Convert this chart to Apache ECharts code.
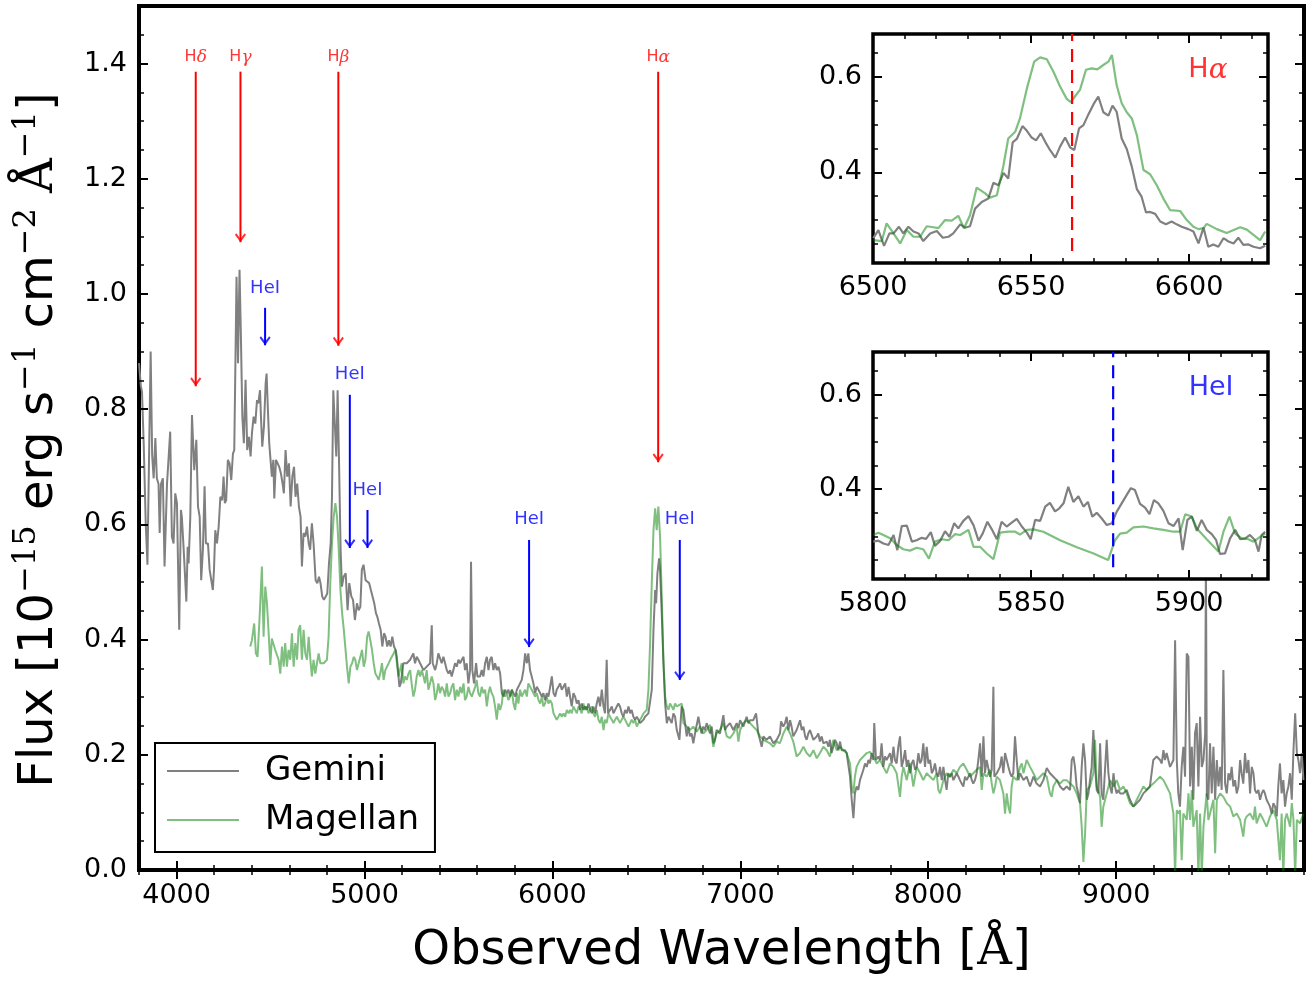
<!DOCTYPE html>
<html>
<head>
<meta charset="utf-8">
<script src="https://cdn.jsdelivr.net/npm/echarts@6/dist/echarts.min.js"></script>
<style>
html, body { margin: 0; padding: 0; background: #fff; }
#chart { width: 1315px; height: 981px; }
</style>
</head>
<body>
<div id="chart"></div>
<script>
// spectra, [wavelength (A), flux (1e-15 erg/s/cm2/A)]
const gemini = [
[3800,0.88],[3810,0.84],[3816,0.83],[3825,0.74],[3836,0.60],[3845,0.53],[3855,0.75],[3862,0.90],[3870,0.72],[3878,0.68],
[3887,0.75],[3895,0.68],[3904,0.67],[3910,0.585],[3917,0.67],[3927,0.68],[3936,0.527],[3949,0.67],[3959,0.67],[3966,0.761],
[3975,0.579],[3984,0.567],[3993,0.654],[4002,0.637],[4007,0.544],[4014,0.417],[4023,0.625],[4028,0.613],[4037,0.561],[4052,0.466],
[4059,0.561],[4064,0.532],[4073,0.613],[4082,0.790],[4094,0.694],[4105,0.747],[4114,0.631],[4123,0.613],[4131,0.503],[4140,0.556],
[4149,0.666],[4156,0.567],[4167,0.567],[4176,0.521],[4193,0.486],[4199,0.521],[4206,0.590],[4215,0.567],[4224,0.596],[4233,0.648],
[4243,0.642],[4250,0.683],[4257,0.637],[4264,0.642],[4273,0.712],[4282,0.706],[4291,0.677],[4300,0.723],[4307,0.729],[4314,0.903],
[4319,1.030],[4327,0.880],[4335,1.042],[4342,0.932],[4350,0.787],[4358,0.741],[4367,0.851],[4376,0.729],[4385,0.752],[4394,0.718],
[4401,0.758],[4410,0.787],[4419,0.775],[4428,0.816],[4435,0.810],[4444,0.833],[4449,0.787],[4456,0.735],[4465,0.770],[4474,0.845],
[4479,0.862],[4486,0.799],[4493,0.741],[4500,0.712],[4507,0.683],[4515,0.712],[4520,0.645],[4529,0.712],[4538,0.706],[4546,0.700],
[4555,0.689],[4564,0.671],[4571,0.654],[4580,0.729],[4589,0.683],[4598,0.706],[4607,0.631],[4616,0.683],[4625,0.700],[4633,0.648],
[4642,0.671],[4651,0.631],[4660,0.613],[4667,0.527],[4676,0.585],[4685,0.579],[4694,0.596],[4703,0.567],[4711,0.556],[4720,0.602],
[4729,0.567],[4740,0.503],[4749,0.498],[4758,0.509],[4766,0.498],[4775,0.475],[4784,0.469],[4793,0.469],[4802,0.480],[4811,0.532],
[4820,0.567],[4827,0.648],[4834,0.833],[4843,0.833],[4850,0.718],[4857,0.833],[4864,0.718],[4873,0.556],[4880,0.492],[4889,0.509],
[4900,0.515],[4910,0.451],[4919,0.498],[4930,0.475],[4939,0.469],[4949,0.434],[4960,0.463],[4969,0.451],[4978,0.457],[4986,0.521],
[4995,0.530],[5006,0.503],[5015,0.503],[5025,0.498],[5034,0.486],[5043,0.486],[5052,0.463],[5061,0.446],[5068,0.440],[5077,0.428],
[5086,0.417],[5095,0.388],[5104,0.411],[5112,0.405],[5121,0.388],[5130,0.399],[5139,0.388],[5148,0.405],[5157,0.388],[5166,0.382],
[5172,0.370],[5186,0.318],[5193,0.324],[5207,0.359],[5225,0.359],[5243,0.365],[5260,0.376],[5269,0.359],[5278,0.370],[5287,0.365],
[5296,0.359],[5305,0.359],[5314,0.347],[5331,0.353],[5349,0.359],[5358,0.425],[5363,0.359],[5376,0.347],[5385,0.359],[5393,0.376],
[5402,0.376],[5411,0.359],[5420,0.370],[5429,0.359],[5438,0.347],[5447,0.341],[5456,0.347],[5464,0.336],[5473,0.347],[5482,0.359],
[5491,0.353],[5500,0.365],[5509,0.359],[5518,0.365],[5527,0.370],[5535,0.347],[5544,0.359],[5553,0.324],[5562,0.347],[5567,0.535],
[5574,0.347],[5583,0.324],[5594,0.359],[5601,0.336],[5615,0.336],[5624,0.347],[5633,0.336],[5642,0.359],[5651,0.370],[5660,0.347],
[5668,0.365],[5677,0.370],[5686,0.347],[5695,0.359],[5704,0.347],[5713,0.353],[5722,0.341],[5731,0.307],[5739,0.301],[5748,0.313],
[5757,0.307],[5766,0.313],[5775,0.301],[5784,0.313],[5793,0.307],[5802,0.301],[5811,0.313],[5819,0.318],[5828,0.324],[5837,0.330],
[5846,0.347],[5855,0.376],[5864,0.359],[5872,0.376],[5881,0.347],[5890,0.336],[5899,0.324],[5908,0.307],[5917,0.318],[5926,0.313],
[5935,0.307],[5944,0.301],[5952,0.307],[5961,0.295],[5970,0.307],[5979,0.301],[5988,0.318],[5997,0.336],[6006,0.307],[6015,0.301],
[6023,0.313],[6032,0.318],[6041,0.324],[6050,0.313],[6059,0.318],[6068,0.324],[6077,0.301],[6086,0.318],[6094,0.301],[6103,0.284],
[6112,0.307],[6121,0.301],[6130,0.289],[6139,0.295],[6148,0.278],[6156,0.289],[6165,0.278],[6174,0.284],[6183,0.278],[6192,0.289],
[6201,0.278],[6210,0.272],[6218,0.284],[6227,0.272],[6236,0.289],[6245,0.301],[6254,0.284],[6263,0.313],[6272,0.284],[6280,0.272],
[6289,0.365],[6296,0.272],[6307,0.278],[6316,0.284],[6325,0.272],[6334,0.278],[6343,0.284],[6351,0.289],[6360,0.284],[6369,0.272],
[6378,0.266],[6387,0.278],[6396,0.272],[6405,0.284],[6414,0.272],[6422,0.278],[6431,0.266],[6440,0.261],[6449,0.266],[6458,0.261],
[6467,0.255],[6476,0.255],[6485,0.261],[6493,0.266],[6502,0.266],[6511,0.272],[6520,0.272],[6529,0.313],[6538,0.417],[6547,0.486],
[6552,0.463],[6559,0.515],[6568,0.541],[6573,0.521],[6582,0.446],[6591,0.359],[6600,0.289],[6609,0.255],[6618,0.266],[6626,0.261],
[6635,0.255],[6644,0.272],[6653,0.266],[6662,0.243],[6676,0.226],[6688,0.284],[6697,0.278],[6706,0.255],[6715,0.232],[6724,0.249],
[6732,0.232],[6741,0.237],[6750,0.220],[6759,0.237],[6777,0.266],[6786,0.249],[6794,0.237],[6803,0.249],[6812,0.243],[6821,0.255],
[6839,0.237],[6848,0.249],[6857,0.220],[6865,0.226],[6874,0.243],[6892,0.237],[6910,0.269],[6919,0.243],[6928,0.249],[6945,0.255],
[6963,0.243],[6981,0.255],[6990,0.246],[6999,0.260],[7016,0.249],[7034,0.266],[7043,0.255],[7052,0.260],[7069,0.260],[7084,0.272],
[7096,0.237],[7114,0.214],[7123,0.232],[7140,0.226],[7158,0.232],[7176,0.220],[7194,0.226],[7211,0.237],[7217,0.258],[7229,0.249],
[7238,0.255],[7247,0.266],[7256,0.243],[7265,0.260],[7273,0.249],[7282,0.232],[7300,0.243],[7318,0.260],[7327,0.243],[7336,0.249],
[7345,0.232],[7353,0.226],[7362,0.237],[7371,0.243],[7389,0.226],[7407,0.232],[7415,0.237],[7424,0.223],[7433,0.232],[7442,0.220],
[7460,0.223],[7469,0.214],[7477,0.226],[7486,0.203],[7495,0.214],[7504,0.226],[7513,0.220],[7522,0.208],[7531,0.223],[7539,0.208],
[7548,0.211],[7557,0.208],[7566,0.203],[7575,0.203],[7584,0.162],[7593,0.122],[7602,0.090],[7610,0.133],[7619,0.145],[7628,0.139],
[7637,0.156],[7655,0.174],[7664,0.185],[7673,0.179],[7682,0.191],[7690,0.185],[7699,0.203],[7708,0.191],[7713,0.255],[7722,0.191],
[7735,0.197],[7744,0.191],[7752,0.220],[7761,0.179],[7770,0.197],[7779,0.191],[7797,0.203],[7806,0.185],[7815,0.214],[7823,0.191],
[7832,0.185],[7841,0.214],[7850,0.232],[7859,0.179],[7868,0.191],[7877,0.208],[7886,0.179],[7894,0.191],[7903,0.168],[7912,0.185],
[7921,0.191],[7930,0.174],[7939,0.179],[7948,0.203],[7957,0.185],[7965,0.191],[7974,0.220],[7983,0.179],[7992,0.214],[8001,0.185],
[8010,0.191],[8019,0.168],[8028,0.174],[8036,0.185],[8045,0.168],[8054,0.162],[8063,0.179],[8072,0.156],[8081,0.179],[8090,0.156],
[8098,0.139],[8107,0.168],[8116,0.162],[8125,0.168],[8134,0.156],[8152,0.168],[8161,0.162],[8169,0.156],[8178,0.150],[8187,0.145],
[8196,0.162],[8205,0.156],[8223,0.168],[8232,0.156],[8240,0.150],[8249,0.156],[8258,0.168],[8267,0.191],[8276,0.220],[8285,0.162],
[8294,0.232],[8302,0.168],[8311,0.191],[8329,0.162],[8338,0.174],[8347,0.318],[8352,0.162],[8365,0.168],[8382,0.179],[8391,0.197],
[8400,0.168],[8409,0.203],[8418,0.203],[8427,0.179],[8436,0.168],[8444,0.162],[8453,0.168],[8462,0.232],[8471,0.191],[8480,0.156],
[8489,0.168],[8507,0.156],[8524,0.162],[8542,0.145],[8560,0.162],[8577,0.150],[8595,0.145],[8613,0.156],[8631,0.177],[8640,0.179],
[8648,0.168],[8666,0.162],[8684,0.156],[8702,0.145],[8719,0.139],[8737,0.145],[8755,0.139],[8764,0.191],[8773,0.197],[8781,0.179],
[8790,0.145],[8799,0.133],[8808,0.116],[8817,0.179],[8826,0.220],[8835,0.191],[8844,0.122],[8853,0.133],[8861,0.156],[8870,0.179],
[8879,0.243],[8888,0.179],[8897,0.139],[8906,0.133],[8915,0.220],[8923,0.133],[8932,0.122],[8950,0.226],[8959,0.168],[8968,0.145],
[8977,0.133],[8986,0.168],[8994,0.145],[9003,0.133],[9012,0.139],[9021,0.133],[9039,0.133],[9056,0.139],[9074,0.122],[9092,0.110],
[9110,0.116],[9127,0.122],[9145,0.133],[9163,0.139],[9180,0.145],[9198,0.191],[9216,0.197],[9234,0.191],[9243,0.185],[9252,0.208],
[9260,0.191],[9269,0.203],[9287,0.179],[9305,0.191],[9314,0.399],[9323,0.191],[9331,0.133],[9340,0.110],[9349,0.179],[9358,0.214],
[9367,0.162],[9376,0.376],[9385,0.370],[9394,0.145],[9403,0.214],[9411,0.122],[9420,0.237],[9429,0.255],[9438,0.145],[9447,0.266],
[9456,0.179],[9465,0.191],[9474,0.237],[9478,0.550],[9483,0.130],[9491,0.122],[9500,0.220],[9509,0.133],[9518,0.214],[9527,0.122],
[9536,0.191],[9545,0.145],[9554,0.179],[9562,0.139],[9571,0.347],[9580,0.150],[9589,0.133],[9598,0.168],[9607,0.156],[9615,0.179],
[9624,0.145],[9633,0.156],[9642,0.133],[9651,0.145],[9660,0.191],[9668,0.168],[9677,0.150],[9686,0.203],[9695,0.168],[9704,0.191],
[9713,0.133],[9722,0.179],[9731,0.168],[9739,0.139],[9748,0.133],[9757,0.139],[9766,0.122],[9775,0.133],[9784,0.139],[9792,0.133],
[9801,0.122],[9810,0.116],[9819,0.110],[9828,0.098],[9837,0.116],[9846,0.110],[9855,0.093],[9863,0.145],[9872,0.185],[9881,0.133],
[9890,0.156],[9899,0.110],[9908,0.133],[9917,0.145],[9926,0.168],[9935,0.122],[9944,0.208],[9953,0.272],[9962,0.203],[9970,0.191],
[9979,0.168],[9988,0.203],[9997,0.156]
];

const magellan = [
[4392,0.388],[4401,0.399],[4413,0.428],[4422,0.376],[4431,0.370],[4442,0.440],[4454,0.527],[4463,0.405],[4472,0.492],[4481,0.463],
[4490,0.411],[4499,0.356],[4507,0.402],[4516,0.405],[4525,0.382],[4534,0.382],[4543,0.365],[4552,0.341],[4561,0.388],[4570,0.353],
[4578,0.394],[4587,0.353],[4596,0.382],[4605,0.365],[4614,0.411],[4623,0.353],[4632,0.394],[4641,0.365],[4649,0.417],[4658,0.425],
[4667,0.365],[4676,0.417],[4685,0.376],[4694,0.365],[4703,0.405],[4712,0.365],[4720,0.336],[4729,0.365],[4738,0.341],[4747,0.359],
[4756,0.376],[4765,0.359],[4774,0.359],[4783,0.359],[4791,0.356],[4800,0.365],[4809,0.405],[4818,0.498],[4827,0.567],[4836,0.613],
[4845,0.637],[4854,0.613],[4863,0.556],[4872,0.486],[4881,0.446],[4890,0.417],[4898,0.417],[4907,0.353],[4916,0.324],[4925,0.353],
[4934,0.359],[4943,0.370],[4951,0.365],[4960,0.347],[4969,0.359],[4978,0.370],[4987,0.382],[4996,0.353],[5005,0.365],[5014,0.405],
[5022,0.414],[5031,0.399],[5040,0.382],[5049,0.359],[5058,0.341],[5067,0.336],[5075,0.330],[5084,0.341],[5093,0.359],[5102,0.330],
[5111,0.347],[5120,0.353],[5129,0.359],[5137,0.365],[5155,0.376],[5164,0.382],[5181,0.336],[5189,0.347],[5198,0.359],[5207,0.324],
[5216,0.336],[5225,0.330],[5234,0.341],[5243,0.347],[5251,0.324],[5260,0.301],[5269,0.313],[5278,0.336],[5287,0.347],[5296,0.336],
[5305,0.347],[5314,0.336],[5322,0.324],[5331,0.347],[5340,0.313],[5349,0.324],[5358,0.336],[5367,0.324],[5376,0.295],[5385,0.307],
[5393,0.324],[5402,0.307],[5411,0.318],[5420,0.313],[5429,0.301],[5438,0.324],[5447,0.301],[5456,0.307],[5464,0.318],[5473,0.324],
[5482,0.295],[5491,0.313],[5500,0.301],[5509,0.318],[5518,0.307],[5527,0.324],[5535,0.295],[5544,0.301],[5553,0.318],[5562,0.307],
[5571,0.301],[5580,0.301],[5589,0.318],[5597,0.330],[5606,0.307],[5615,0.301],[5624,0.318],[5633,0.307],[5642,0.313],[5651,0.284],
[5660,0.307],[5668,0.318],[5677,0.307],[5686,0.301],[5695,0.284],[5704,0.261],[5713,0.289],[5722,0.278],[5731,0.289],[5739,0.313],
[5748,0.301],[5757,0.307],[5766,0.295],[5775,0.301],[5784,0.313],[5793,0.289],[5802,0.278],[5811,0.307],[5819,0.289],[5828,0.313],
[5837,0.301],[5846,0.307],[5855,0.313],[5864,0.301],[5872,0.324],[5881,0.324],[5890,0.313],[5899,0.307],[5908,0.301],[5917,0.307],
[5926,0.295],[5935,0.289],[5944,0.301],[5952,0.284],[5961,0.289],[5970,0.301],[5979,0.289],[5988,0.295],[5997,0.289],[6006,0.272],
[6015,0.266],[6023,0.261],[6032,0.266],[6041,0.272],[6050,0.266],[6059,0.272],[6068,0.266],[6077,0.278],[6086,0.272],[6094,0.278],
[6103,0.272],[6112,0.284],[6121,0.278],[6130,0.272],[6139,0.284],[6148,0.278],[6156,0.272],[6165,0.289],[6174,0.278],[6183,0.284],
[6192,0.272],[6201,0.278],[6210,0.284],[6218,0.272],[6227,0.266],[6236,0.278],[6245,0.261],[6254,0.255],[6263,0.266],[6272,0.243],
[6280,0.261],[6289,0.255],[6298,0.272],[6307,0.266],[6316,0.261],[6325,0.255],[6334,0.261],[6343,0.266],[6351,0.261],[6360,0.255],
[6369,0.261],[6378,0.266],[6387,0.261],[6396,0.255],[6405,0.249],[6414,0.255],[6422,0.261],[6431,0.255],[6440,0.261],[6449,0.249],
[6458,0.255],[6467,0.261],[6476,0.266],[6485,0.272],[6493,0.272],[6502,0.278],[6511,0.313],[6520,0.394],[6529,0.498],[6538,0.590],
[6547,0.628],[6555,0.590],[6564,0.631],[6573,0.579],[6582,0.475],[6591,0.365],[6600,0.301],[6609,0.284],[6618,0.278],[6626,0.289],
[6635,0.284],[6644,0.278],[6653,0.289],[6662,0.284],[6671,0.284],[6688,0.289],[6697,0.255],[6715,0.249],[6732,0.243],[6750,0.249],
[6768,0.240],[6786,0.249],[6803,0.237],[6821,0.243],[6839,0.252],[6857,0.214],[6865,0.226],[6874,0.237],[6892,0.243],[6910,0.255],
[6928,0.232],[6945,0.229],[6963,0.237],[6981,0.249],[6990,0.223],[6999,0.243],[7016,0.255],[7034,0.260],[7052,0.255],[7069,0.249],
[7087,0.243],[7105,0.232],[7123,0.226],[7140,0.223],[7158,0.220],[7176,0.214],[7194,0.223],[7211,0.220],[7229,0.237],[7247,0.249],
[7265,0.237],[7282,0.223],[7300,0.197],[7318,0.203],[7336,0.214],[7353,0.203],[7371,0.197],[7389,0.208],[7407,0.194],[7424,0.203],
[7442,0.214],[7460,0.208],[7477,0.197],[7495,0.226],[7513,0.208],[7531,0.214],[7548,0.208],[7566,0.203],[7584,0.185],[7593,0.145],
[7602,0.133],[7610,0.162],[7619,0.179],[7637,0.191],[7655,0.197],[7673,0.203],[7690,0.205],[7708,0.197],[7726,0.185],[7744,0.191],
[7761,0.179],[7779,0.168],[7797,0.185],[7815,0.179],[7832,0.168],[7850,0.127],[7859,0.162],[7868,0.179],[7886,0.156],[7903,0.185],
[7921,0.145],[7939,0.179],[7957,0.168],[7974,0.156],[7992,0.168],[8010,0.162],[8028,0.156],[8045,0.168],[8054,0.139],[8063,0.133],
[8081,0.156],[8098,0.168],[8116,0.162],[8134,0.174],[8152,0.168],[8169,0.179],[8187,0.185],[8205,0.174],[8223,0.162],[8240,0.168],
[8258,0.174],[8276,0.179],[8285,0.139],[8294,0.168],[8311,0.162],[8329,0.174],[8338,0.150],[8347,0.133],[8356,0.145],[8365,0.162],
[8382,0.156],[8400,0.133],[8409,0.098],[8418,0.133],[8427,0.110],[8436,0.098],[8444,0.145],[8453,0.162],[8471,0.156],[8489,0.179],
[8498,0.185],[8507,0.168],[8524,0.191],[8542,0.179],[8560,0.168],[8577,0.156],[8595,0.162],[8613,0.168],[8631,0.162],[8648,0.133],
[8657,0.127],[8666,0.145],[8684,0.156],[8702,0.150],[8719,0.156],[8737,0.156],[8755,0.150],[8773,0.145],[8790,0.133],[8808,0.116],
[8817,0.075],[8826,0.014],[8835,0.064],[8844,0.139],[8861,0.145],[8879,0.168],[8888,0.226],[8897,0.145],[8915,0.127],[8923,0.075],
[8932,0.110],[8950,0.133],[8968,0.156],[8986,0.145],[9003,0.156],[9021,0.139],[9039,0.145],[9056,0.133],[9074,0.116],[9092,0.110],
[9110,0.122],[9127,0.133],[9145,0.145],[9163,0.139],[9180,0.145],[9198,0.150],[9216,0.156],[9234,0.162],[9252,0.156],[9269,0.145],
[9287,0.133],[9305,0.098],[9314,-0.01],[9323,0.104],[9331,0.098],[9340,0.104],[9349,0.017],[9358,0.098],[9376,0.087],[9385,0.133],
[9394,0.087],[9403,0.139],[9411,0.075],[9429,0.104],[9438,-0.01],[9447,0.098],[9456,-0.01],[9465,0.075],[9482,0.133],[9491,0.087],
[9500,0.098],[9518,0.122],[9527,0.029],[9536,0.122],[9554,0.133],[9571,0.127],[9589,0.116],[9607,0.110],[9624,0.093],[9642,0.098],
[9660,0.087],[9677,0.058],[9686,0.087],[9695,0.093],[9713,0.098],[9731,0.087],[9739,0.110],[9748,0.081],[9766,0.098],[9784,0.087],
[9801,0.075],[9819,0.093],[9837,0.104],[9855,0.087],[9872,0.017],[9881,0.098],[9890,-0.01],[9899,0.087],[9908,0.098],[9926,0.075],
[9935,0.116],[9944,0.087],[9953,-0.01],[9962,0.087],[9979,0.081],[9997,0.098]
];

// H-alpha zoom
const haGemini = [
[6500.1,0.262],[6501.7,0.279],[6503.5,0.246],[6505.2,0.272],[6506.5,0.272],[6508.2,0.286],[6509.6,0.272],[6511.2,0.286],
[6512.8,0.276],[6514.4,0.272],[6515.9,0.256],[6518.1,0.272],[6520.2,0.277],[6522.1,0.263],[6523.9,0.265],[6525.4,0.272],
[6527.6,0.291],[6529.1,0.284],[6530.7,0.287],[6532.3,0.324],[6534.4,0.338],[6536.5,0.345],[6538.1,0.378],[6539.7,0.373],
[6541.3,0.399],[6542.8,0.387],[6544.2,0.463],[6545.5,0.470],[6547.3,0.497],[6548.7,0.487],[6550.2,0.473],[6551.6,0.467],
[6553.1,0.482],[6554.5,0.464],[6556.0,0.447],[6557.7,0.431],[6559.2,0.454],[6560.8,0.473],[6562.4,0.452],[6563.7,0.447],
[6565.2,0.492],[6566.6,0.499],[6568.2,0.522],[6569.8,0.543],[6571.3,0.559],[6572.9,0.526],[6574.5,0.519],[6575.8,0.540],
[6577.1,0.527],[6578.7,0.471],[6580.3,0.449],[6581.9,0.412],[6583.5,0.365],[6585.0,0.349],[6586.4,0.316],[6587.7,0.317],
[6589.3,0.313],[6590.9,0.297],[6592.7,0.291],[6594.5,0.297],[6596.1,0.291],[6597.7,0.286],[6599.8,0.281],[6601.4,0.276],
[6603.0,0.251],[6604.6,0.284],[6606.1,0.244],[6607.7,0.249],[6609.3,0.244],[6610.9,0.262],[6612.5,0.255],[6614.1,0.251],
[6615.6,0.263],[6617.2,0.248],[6618.8,0.249],[6620.4,0.244],[6622.5,0.241],[6624.1,0.246]
];
const haMagellan = [
[6500.1,0.258],[6502.8,0.256],[6504.3,0.293],[6506.5,0.272],[6508.6,0.251],[6510.7,0.279],[6512.8,0.265],[6514.9,0.265],
[6517.0,0.287],[6519.1,0.285],[6520.7,0.283],[6522.8,0.300],[6524.9,0.299],[6527.0,0.309],[6528.8,0.283],[6530.7,0.310],
[6532.8,0.368],[6535.5,0.356],[6537.0,0.347],[6539.2,0.352],[6541.3,0.415],[6542.8,0.471],[6545.0,0.485],[6546.5,0.513],
[6548.7,0.576],[6551.0,0.632],[6552.9,0.641],[6555.0,0.637],[6557.1,0.611],[6559.2,0.580],[6561.3,0.554],[6562.6,0.547],
[6563.9,0.559],[6565.5,0.573],[6567.4,0.615],[6569.2,0.618],[6571.0,0.616],[6572.9,0.625],[6574.5,0.632],[6575.6,0.646],
[6577.1,0.583],[6578.7,0.545],[6580.3,0.526],[6581.9,0.513],[6583.5,0.478],[6585.6,0.405],[6587.7,0.396],[6589.8,0.373],
[6591.9,0.345],[6594.0,0.321],[6597.2,0.319],[6599.3,0.300],[6601.4,0.286],[6603.0,0.281],[6604.6,0.283],[6605.6,0.292],
[6608.8,0.281],[6611.9,0.273],[6616.2,0.285],[6618.3,0.280],[6620.4,0.269],[6622.5,0.258],[6624.1,0.276]
];

// HeI 5876 zoom
const heGemini = [
[5800.1,0.289],[5801.7,0.291],[5803.3,0.285],[5804.9,0.282],[5806.5,0.303],[5807.7,0.271],[5809.1,0.322],[5810.7,0.323],
[5812.3,0.289],[5813.8,0.292],[5815.4,0.297],[5816.8,0.295],[5818.3,0.309],[5819.6,0.280],[5821.2,0.290],[5822.8,0.311],
[5824.2,0.299],[5825.7,0.328],[5827.0,0.317],[5828.6,0.333],[5830.2,0.343],[5831.8,0.324],[5833.4,0.291],[5834.7,0.306],
[5836.2,0.331],[5837.6,0.315],[5839.2,0.294],[5840.7,0.331],[5842.3,0.321],[5843.9,0.329],[5845.5,0.337],[5847.1,0.321],
[5848.7,0.308],[5849.9,0.294],[5851.3,0.335],[5852.9,0.333],[5854.5,0.363],[5856.0,0.371],[5857.6,0.353],[5858.9,0.359],
[5860.3,0.370],[5861.8,0.405],[5863.4,0.373],[5865.0,0.385],[5866.6,0.363],[5868.0,0.373],[5869.4,0.342],[5870.8,0.350],
[5872.4,0.338],[5874.0,0.324],[5875.6,0.328],[5877.1,0.352],[5878.7,0.370],[5880.3,0.388],[5881.6,0.402],[5882.9,0.398],
[5884.5,0.369],[5886.1,0.361],[5887.5,0.347],[5888.9,0.377],[5890.3,0.370],[5891.9,0.354],[5893.5,0.328],[5895.1,0.322],
[5896.7,0.338],[5898.0,0.271],[5899.5,0.335],[5900.9,0.342],[5902.5,0.312],[5904.0,0.335],[5905.6,0.314],[5907.2,0.305],
[5908.6,0.292],[5909.8,0.263],[5911.4,0.264],[5913.0,0.296],[5914.6,0.314],[5916.2,0.294],[5917.8,0.296],[5919.3,0.303],
[5920.9,0.292],[5922.0,0.268],[5923.0,0.303],[5924.1,0.310]
];
const heMagellan = [
[5800.1,0.303],[5801.7,0.308],[5803.3,0.303],[5805.4,0.296],[5807.5,0.282],[5809.6,0.273],[5811.7,0.270],[5813.8,0.276],
[5815.9,0.273],[5817.7,0.253],[5819.6,0.289],[5821.7,0.294],[5823.9,0.292],[5826.0,0.305],[5827.6,0.303],[5830.2,0.314],
[5831.8,0.278],[5833.9,0.278],[5836.0,0.264],[5838.1,0.252],[5840.2,0.308],[5842.8,0.310],[5845.0,0.310],[5846.5,0.304],
[5848.7,0.314],[5850.8,0.315],[5853.9,0.310],[5859.2,0.292],[5864.5,0.277],[5869.8,0.264],[5874.4,0.250],[5876.6,0.292],
[5878.2,0.306],[5880.3,0.308],[5882.4,0.319],[5885.6,0.321],[5888.7,0.317],[5891.9,0.314],[5895.1,0.310],[5897.2,0.310],
[5898.8,0.347],[5900.9,0.342],[5902.5,0.317],[5905.6,0.294],[5909.3,0.268],[5910.9,0.310],[5912.8,0.342],[5914.6,0.306],
[5916.7,0.296],[5918.8,0.294],[5920.4,0.289],[5922.5,0.299],[5924.1,0.306]
];

// line identifications
const lineLam  = [4102, 4340, 4861, 6563, 4471, 4922, 5016, 5876, 6678];
const lineTag  = ['δ', 'γ', 'β', 'α', 'HeI', 'HeI', 'HeI', 'HeI', 'HeI'];
const arrowTop = [1.386, 1.386, 1.386, 1.386, 0.976, 0.825, 0.625, 0.573, 0.573];
const arrowTip = [0.840, 1.090, 0.910, 0.708, 0.911, 0.559, 0.559, 0.387, 0.330];
const labelY   = [1.411, 1.411, 1.411, 1.411, 1.010, 0.860, 0.660, 0.609, 0.609];

// tick labels
const mainXTicks = [4000, 5000, 6000, 7000, 8000, 9000];
const mainYTicks = [0.0, 0.2, 0.4, 0.6, 0.8, 1.0, 1.2, 1.4];
const haXTicks = [6500, 6550, 6600];
const heXTicks = [5800, 5850, 5900];
const insetYTicks = [0.4, 0.6];

const FONT = 'DejaVu Sans';
const GRAY = '#808080';
const GREEN = 'rgba(0,128,0,0.5)';

function steps(a, b, d, skip) {
  const out = [];
  for (let v = a; v <= b + 1e-9; v += d) {
    const r = Math.round(v * 1000) / 1000;
    if (!skip.some(s => Math.abs(s - r) < 1e-6)) out.push(r);
  }
  return out;
}

// 4 tick axes per grid: bottom/left major (with labels), minor, top/right major, minor
function axes(dim, grid, min, max, major, minor, fmt, margin, z) {
  const sides = dim === 'x' ? ['bottom', 'top'] : ['left', 'right'];
  const out = [];
  sides.forEach((pos, k) => {
    out.push({
      gridIndex: grid, type: 'value', min: min, max: max, position: pos, z: z,
      axisLine: { show: false }, splitLine: { show: false },
      axisTick: { show: true, inside: true, length: 9, customValues: major, lineStyle: { color: '#000', width: 2 } },
      axisLabel: k === 0
        ? { show: true, customValues: major, formatter: fmt, margin: margin, fontSize: 27, color: '#000', fontFamily: FONT }
        : { show: false }
    });
    out.push({
      gridIndex: grid, type: 'value', min: min, max: max, position: pos, z: z,
      axisLine: { show: false }, splitLine: { show: false },
      axisTick: { show: true, inside: true, length: 5, customValues: minor, lineStyle: { color: '#000', width: 1.5 } },
      axisLabel: { show: false }
    });
  });
  return out;
}

const fx = v => String(v);
const fy = v => v.toFixed(1);

const xAxis = [].concat(
  axes('x', 0, 3800, 10000, mainXTicks, steps(3800, 10000, 200, mainXTicks), fx, 12, 3),
  axes('x', 1, 6500, 6625, haXTicks, steps(6510, 6620, 10, haXTicks), fx, 11, 13),
  axes('x', 2, 5800, 5925, heXTicks, steps(5810, 5920, 10, heXTicks), fx, 11, 13)
);
const yAxis = [].concat(
  axes('y', 0, 0, 1.5, mainYTicks, steps(0, 1.45, 0.05, mainYTicks), fy, 12, 3),
  axes('y', 1, 0.21, 0.69, insetYTicks, steps(0.25, 0.65, 0.05, insetYTicks), fy, 11, 13),
  axes('y', 2, 0.21, 0.69, insetYTicks, steps(0.25, 0.65, 0.05, insetYTicks), fy, 11, 13)
);
xAxis[0].name = '{a|Observed Wavelength [}{b|Å}{a|]}';
xAxis[0].nameLocation = 'middle';
xAxis[0].nameGap = 58;
xAxis[0].nameTextStyle = {
  rich: {
    a: { fontSize: 48, fontFamily: FONT, color: '#000' },
    b: { fontSize: 48, fontFamily: 'DejaVu Serif', color: '#000' }
  }
};

const series = [
  { name: 'Gemini', type: 'line', data: gemini, xAxisIndex: 0, yAxisIndex: 0, symbol: 'none', z: 2,
    lineStyle: { color: GRAY, width: 2 }, itemStyle: { color: GRAY } },
  { name: 'Magellan', type: 'line', data: magellan, xAxisIndex: 0, yAxisIndex: 0, symbol: 'none', z: 3,
    lineStyle: { color: GREEN, width: 2 }, itemStyle: { color: GREEN } }
];

// arrows: shaft as a two point line, head as a chevron symbol
const chevron = 'path://M0,0 L1.3,-1.2 L5,3.2 L8.7,-1.2 L10,0 L5,6 Z';
lineLam.forEach((lam, i) => {
  const col = lineTag[i] === 'HeI' ? '#0000ff' : '#ff0000';
  series.push({
    type: 'line', data: [[lam, arrowTop[i]], [lam, arrowTip[i]]], xAxisIndex: 0, yAxisIndex: 0,
    symbol: 'none', silent: true, z: 5, lineStyle: { color: col, width: 2 }
  });
});
series.push({
  type: 'scatter', xAxisIndex: 0, yAxisIndex: 0, silent: true, z: 6,
  symbol: chevron, symbolSize: [11, 9], symbolOffset: [0, '-50%'],
  data: lineLam.map((lam, i) => ({
    value: [lam, arrowTip[i]],
    itemStyle: { color: lineTag[i] === 'HeI' ? '#0000ff' : '#ff0000' }
  }))
});
series.push({
  type: 'scatter', xAxisIndex: 0, yAxisIndex: 0, silent: true, z: 6, symbolSize: 0,
  data: lineLam.map((lam, i) => ({
    value: [lam, labelY[i]],
    label: { formatter: lineTag[i] === 'HeI' ? '{he|HeI}' : '{r|H}{g|' + lineTag[i] + '}' }
  })),
  label: {
    show: true, position: 'inside',
    rich: {
      he: { fontSize: 18, fontFamily: FONT, color: '#0000ff' },
      r: { fontSize: 16, fontFamily: FONT, color: '#ff0000' },
      g: { fontSize: 17, fontFamily: 'DejaVu Serif', fontStyle: 'italic', color: '#ff0000' }
    }
  }
});

// insets
function insetSeries(g, gem, mag, lam, dashCol, tag) {
  return [
    { type: 'line', data: gem, xAxisIndex: 4 * g, yAxisIndex: 4 * g, symbol: 'none', z: 11, silent: true,
      lineStyle: { color: GRAY, width: 2.2 } },
    { type: 'line', data: mag, xAxisIndex: 4 * g, yAxisIndex: 4 * g, symbol: 'none', z: 12, silent: true,
      lineStyle: { color: GREEN, width: 2.2 } },
    { type: 'line', data: [[lam, 0.235], [lam, 0.69]], xAxisIndex: 4 * g, yAxisIndex: 4 * g, symbol: 'none',
      z: 12, silent: true, lineStyle: { color: dashCol, width: 2.2, type: [13, 8] } },
    { type: 'scatter', xAxisIndex: 4 * g, yAxisIndex: 4 * g, symbolSize: 0, z: 13, silent: true,
      data: [{ value: tag.pos, label: { formatter: tag.text } }],
      label: {
        show: true, position: 'inside',
        rich: {
          n: { fontSize: 27, fontFamily: FONT, color: dashCol },
          g: { fontSize: 28, fontFamily: 'DejaVu Serif', fontStyle: 'italic', color: dashCol }
        }
      } }
  ];
}
series.push.apply(series, insetSeries(1, haGemini, haMagellan, 6563, '#ff0000',
  { pos: [6606, 0.614], text: '{n|H}{g|α}' }));
series.push.apply(series, insetSeries(2, heGemini, heMagellan, 5876, '#0000ff',
  { pos: [5907, 0.614], text: '{n|HeI}' }));

const option = {
  animation: false,
  backgroundColor: '#fff',
  grid: [
    { left: 139, top: 6, width: 1165, height: 864, show: true, borderColor: '#000', borderWidth: 4, z: 0 },
    { left: 873, top: 34, width: 395, height: 229, show: true, borderColor: '#000', borderWidth: 3.5,
      backgroundColor: '#fff', z: 10 },
    { left: 873, top: 352, width: 395, height: 227, show: true, borderColor: '#000', borderWidth: 3.5,
      backgroundColor: '#fff', z: 10 }
  ],
  xAxis: xAxis,
  yAxis: yAxis,
  legend: {
    data: ['Gemini', 'Magellan'],
    orient: 'vertical', left: 155, top: 743,
    padding: [8, 16, 12, 12], itemGap: 9, itemWidth: 72, itemHeight: 2, icon: 'rect',
    borderColor: '#000', borderWidth: 2, borderRadius: 0, backgroundColor: '#fff',
    selectedMode: false,
    textStyle: { fontSize: 34, fontFamily: FONT, color: '#000', lineHeight: 40, padding: [0, 0, 0, 21] }
  },
  graphic: [{
    type: 'text', x: 40, y: 440, rotation: Math.PI / 2, silent: true,
    style: {
      text: '{n|Flux [10}{s|−15}{n| erg s}{s|−1}{n| cm}{s|−2}{n| }{m|Å}{s|−1}{n|]}',
      align: 'center', verticalAlign: 'middle', fill: '#000',
      rich: {
        n: { fontSize: 48, fontFamily: FONT, lineHeight: 58, fill: '#000' },
        m: { fontSize: 48, fontFamily: 'DejaVu Serif', lineHeight: 58, fill: '#000' },
        s: { fontSize: 32, fontFamily: 'DejaVu Serif', lineHeight: 36, verticalAlign: 'top', fill: '#000' }
      }
    }
  }],
  series: series
};

const chart = echarts.init(document.getElementById('chart'));
chart.setOption(option);
</script>
</body>
</html>
